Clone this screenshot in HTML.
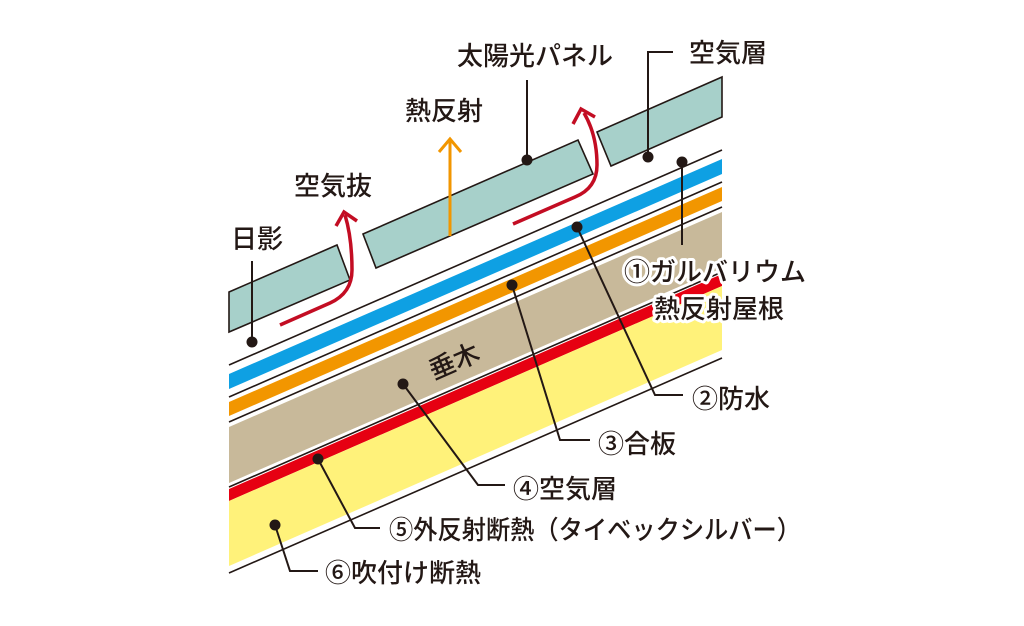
<!DOCTYPE html>
<html><head><meta charset="utf-8"><style>
html,body{margin:0;padding:0;background:#fff;}
svg{display:block;}
text{font-family:"Liberation Sans","Noto Sans CJK JP",sans-serif;fill:#231815;font-size:26px;font-weight:500;}
.h{stroke:#fff;stroke-width:6px;paint-order:stroke;stroke-linejoin:round;}
</style></head><body>
<svg width="1024" height="626" viewBox="0 0 1024 626" xmlns="http://www.w3.org/2000/svg">
<polygon points="229,374 722,159 722,174 229,389" fill="#0ea0e3"/>
<polygon points="229,402 722,187 722,201 229,416" fill="#f29600"/>
<polygon points="229,427 722,212 722,268 229,483" fill="#c8b99a"/>
<polygon points="229,489 722,274 722,286 229,501" fill="#e60012"/>
<polygon points="229,501 722,286 722,350 229,566" fill="#fff27a"/>
<g stroke="#231815" stroke-width="1.6">
<line x1="229" y1="365" x2="722" y2="150"/>
<line x1="229" y1="397" x2="722" y2="182"/>
<line x1="229" y1="422" x2="722" y2="207"/>
<line x1="229" y1="487" x2="722" y2="272"/>
<line x1="229" y1="573" x2="722" y2="358"/>
</g>
<g fill="#a7d0ca" stroke="#231815" stroke-width="1.6">
<polygon points="229,292 337,245 350,280 229,332"/>
<polygon points="363,234 578,140 593,174 376,268"/>
<polygon points="597,132 722,77 722,117 611,166"/>
</g>
<g fill="none" stroke-linecap="butt" stroke-linejoin="miter">
<path d="M280,325 L330,303 Q352,293 352,270 Q352,238 345,215" stroke="#c30d23" stroke-width="3.5"/>
<path d="M336,226 L344,212 L357,221" stroke="#c30d23" stroke-width="3.5"/>
<path d="M513,224 L575,197 Q597,188 597,165 Q597,135 584,113" stroke="#c30d23" stroke-width="3.5"/>
<path d="M573,124 L581,109 L595,117" stroke="#c30d23" stroke-width="3.5"/>
<line x1="450" y1="236" x2="450" y2="139" stroke="#f29600" stroke-width="3"/>
<path d="M439,152 L450,139 L461,152" stroke="#f29600" stroke-width="3"/>
</g>
<g stroke="#231815" stroke-width="2" fill="none">
<line x1="252" y1="261" x2="252" y2="342"/>
<line x1="527" y1="80" x2="527" y2="160"/>
<polyline points="673,52 648,52 648,157"/>
<line x1="682" y1="162" x2="682" y2="245"/>
<polyline points="577,227 655,395 683,395"/>
<polyline points="512,285 560,440 590,440"/>
<polyline points="403,384 478,485 505,485"/>
<polyline points="318,459 355,528 380,528"/>
<polyline points="275,525 290,571 318,571"/>
</g>
<g fill="#231815">
<circle cx="252" cy="342" r="5.5"/><circle cx="527" cy="160" r="5.5"/>
<circle cx="648" cy="157" r="5.5"/><circle cx="682" cy="162" r="5.5"/>
<circle cx="577" cy="227" r="5.5"/><circle cx="512" cy="285" r="5.5"/>
<circle cx="403" cy="384" r="5.5"/><circle cx="318" cy="459" r="5.5"/>
<circle cx="275" cy="525" r="5.5"/>
</g>
<text x="231" y="248">日影</text>
<text x="294" y="195">空気抜</text>
<text x="405" y="120">熱反射</text>
<text x="457" y="65">太陽光パネル</text>
<text x="689" y="62">空気層</text>
<text class="h" x="624" y="281">①ガルバリウム</text>
<text class="h" x="654" y="318">熱反射屋根</text>
<text x="692" y="408">②防水</text>
<text x="598" y="453">③合板</text>
<text x="513" y="498">④空気層</text>
<text x="389" y="539" textLength="412" lengthAdjust="spacingAndGlyphs">⑤外反射断熱（タイベックシルバー）</text>
<text x="325" y="582">⑥吹付け断熱</text>
<text x="0" y="0" transform="translate(434,380) rotate(-23.5)">垂木</text>
</svg>
</body></html>
